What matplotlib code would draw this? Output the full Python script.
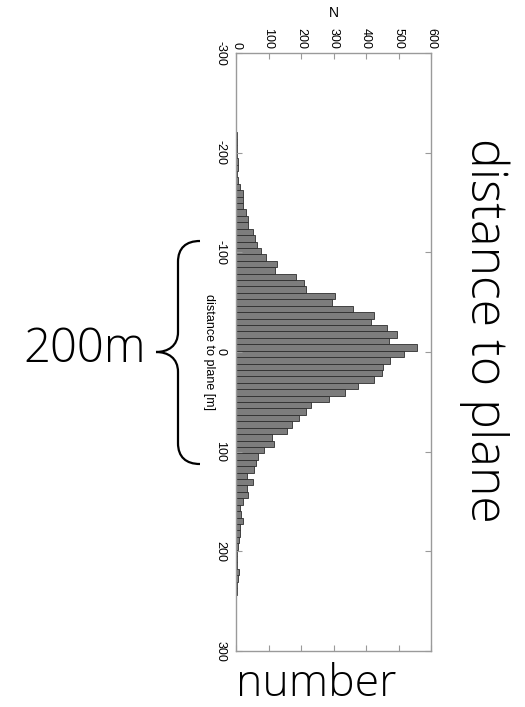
import matplotlib
matplotlib.use("Agg")
import matplotlib.pyplot as plt
import numpy as np
from matplotlib.path import Path
from matplotlib.patches import PathPatch

# histogram of distance to plane [m], bin edges start at first_edge, width bin_width
first_edge = -239.6
bin_width = 6.44
counts = [1, 1, 1, 2, 2, 3, 3, 6, 7, 4,
          6, 12, 23, 22, 22, 31, 37, 37, 53, 59,
          65, 77, 92, 125, 119, 186, 209, 215, 305, 294,
          361, 426, 415, 466, 494, 470, 556, 517, 474, 451,
          448, 426, 374, 334, 285, 232, 215, 193, 172, 157,
          111, 116, 85, 67, 62, 56, 35, 51, 33, 36,
          23, 12, 15, 21, 13, 11, 8, 6, 4, 3,
          2, 8, 6, 3, 2, 1, 1, 1, 1, 1, 0]
dist_ticks = [-300, -200, -100, 0, 100, 200, 300]
n_ticks = [0, 100, 200, 300, 400, 500, 600]

W, H = 525, 707
plt.rcParams['font.family'] = ['Liberation Sans', 'DejaVu Sans']
fig = plt.figure(figsize=(W / 100, H / 100), dpi=100)

ax = fig.add_axes([236 / W, 1 - 651 / H, 195 / W, 598 / H])
centers = first_edge + bin_width * (np.arange(len(counts)) + 0.5)
ax.barh(centers, counts, height=bin_width, color="#7d7d7d",
        edgecolor="#2e2e2e", linewidth=0.6)
ax.set_xlim(0, 600)
ax.set_ylim(300, -300)

gray = "#9a9a9a"
for s in ax.spines.values():
    s.set_color(gray)
    s.set_linewidth(1.0)

ax.xaxis.tick_top()
ax.xaxis.set_label_position("top")
ax.set_xticks(n_ticks)
ax.set_xticklabels([str(t) for t in n_ticks], rotation=-90, fontsize=9,
                   va="bottom", ha="center")
ax.set_yticks(dist_ticks)
ax.set_yticklabels([str(t) for t in dist_ticks], rotation=-90, fontsize=9,
                   va="center", ha="right")
ax.tick_params(direction="in", length=4, width=0.8, color=gray,
               top=True, bottom=True, left=True, right=True, pad=3)
ax.tick_params(axis="y", pad=7)
ax.set_xlabel("N", fontsize=10, labelpad=8)
ax.set_ylabel("distance to plane [m]", rotation=-90, fontsize=9,
              labelpad=4, va="center")

# overlay in pixel coordinates for the annotations
ov = fig.add_axes([0, 0, 1, 1])
ov.set_xlim(0, W)
ov.set_ylim(H, 0)
ov.axis("off")
ov.patch.set_alpha(0)

verts = [(200, 241), (186, 241), (178, 248), (178, 262),
         (178, 332),
         (178, 346), (168, 352), (156, 352),
         (168, 352), (178, 358), (178, 372),
         (178, 443),
         (178, 457), (186, 464), (200, 464)]
codes = [Path.MOVETO, Path.CURVE4, Path.CURVE4, Path.CURVE4,
         Path.LINETO,
         Path.CURVE4, Path.CURVE4, Path.CURVE4,
         Path.CURVE4, Path.CURVE4, Path.CURVE4,
         Path.LINETO,
         Path.CURVE4, Path.CURVE4, Path.CURVE4]
ov.add_patch(PathPatch(Path(verts, codes), facecolor="none",
                       edgecolor="black", linewidth=1.6))

big = dict(family=["Open Sans", "DejaVu Sans"], fontweight="light", color="black")
ov.text(85, 362, "200m", fontsize=34, ha="center", va="baseline", **big)
ov.text(484, 330, "distance to plane", fontsize=36, rotation=-90,
        ha="center", va="center", **big)
ov.text(316, 696, "number", fontsize=32, ha="center", va="baseline", **big)

fig.savefig("out.png", dpi=100, facecolor="white")
